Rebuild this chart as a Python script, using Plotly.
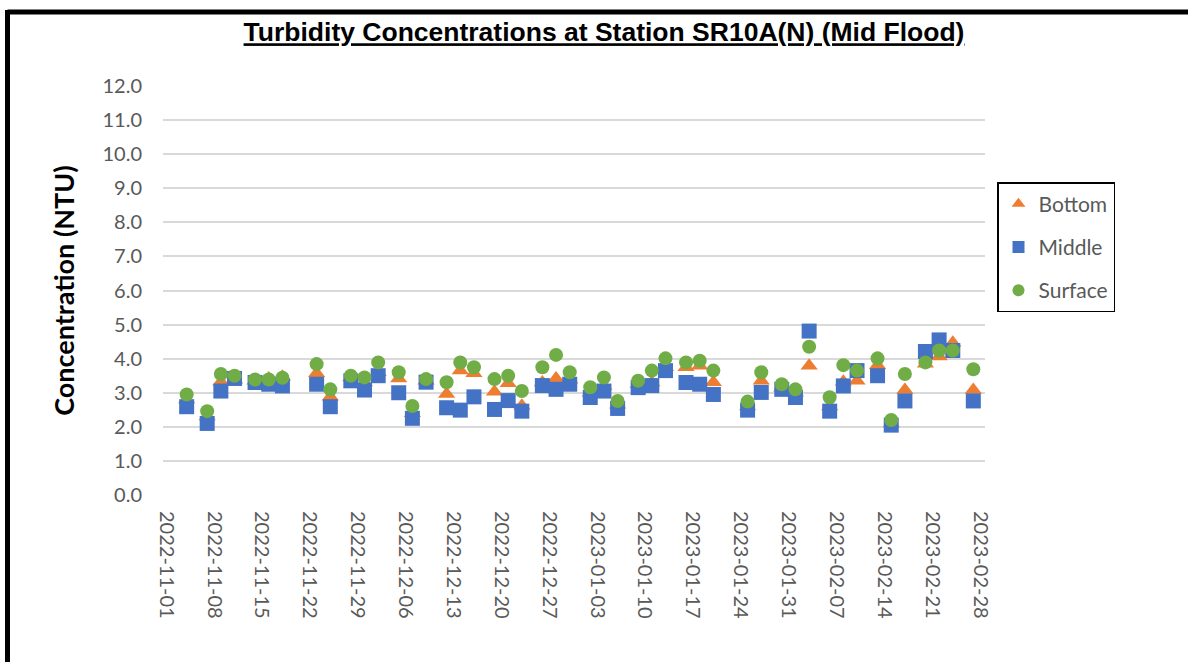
import plotly.graph_objects as go

# Sampling dates (Mid Flood, station SR10A(N))
dates = [
    "2022-11-04", "2022-11-07", "2022-11-09", "2022-11-11", "2022-11-14", "2022-11-16", "2022-11-18",
    "2022-11-23", "2022-11-25", "2022-11-28", "2022-11-30", "2022-12-02", "2022-12-05", "2022-12-07",
    "2022-12-09", "2022-12-12", "2022-12-14", "2022-12-16", "2022-12-19", "2022-12-21", "2022-12-23",
    "2022-12-26", "2022-12-28", "2022-12-30", "2023-01-02", "2023-01-04", "2023-01-06", "2023-01-09",
    "2023-01-11", "2023-01-13", "2023-01-16", "2023-01-18", "2023-01-20", "2023-01-25", "2023-01-27",
    "2023-01-30", "2023-02-01", "2023-02-03", "2023-02-06", "2023-02-08", "2023-02-10", "2023-02-13",
    "2023-02-15", "2023-02-17", "2023-02-20", "2023-02-22", "2023-02-24", "2023-02-27",
]

# Turbidity (NTU) by depth
bottom = [
    2.80, 2.30, 3.32, 3.38, 3.35, 3.42, 3.47,
    3.57, 2.88, 3.45, 3.30, 3.60, 3.42, 2.40,
    3.35, 2.96, 3.65, 3.57, 3.03, 3.28, 2.62,
    3.30, 3.42, 3.38, 3.00, 3.20, 2.65, 3.25,
    3.30, 3.75, 3.75, 3.79, 3.31, 2.60, 3.35,
    3.15, 3.00, 3.79, 2.60, 3.32, 3.35, 3.81,
    2.10, 3.08, 3.85, 4.06, 4.47, 3.08,
]
middle = [
    2.59, 2.10, 3.05, 3.42, 3.30, 3.25, 3.20,
    3.25, 2.59, 3.35, 3.08, 3.50, 3.00, 2.25,
    3.31, 2.56, 2.49, 2.88, 2.51, 2.77, 2.46,
    3.21, 3.10, 3.25, 2.86, 3.05, 2.54, 3.15,
    3.21, 3.65, 3.30, 3.25, 2.95, 2.49, 3.01,
    3.10, 2.86, 4.81, 2.46, 3.20, 3.65, 3.50,
    2.05, 2.76, 4.21, 4.55, 4.24, 2.76,
]
surface = [
    2.95, 2.46, 3.55, 3.50, 3.39, 3.39, 3.44,
    3.84, 3.10, 3.50, 3.45, 3.89, 3.60, 2.61,
    3.40, 3.31, 3.89, 3.75, 3.40, 3.50, 3.05,
    3.75, 4.11, 3.60, 3.16, 3.45, 2.76, 3.35,
    3.65, 4.01, 3.89, 3.94, 3.65, 2.74, 3.60,
    3.25, 3.10, 4.35, 2.87, 3.81, 3.65, 4.01,
    2.20, 3.55, 3.89, 4.24, 4.24, 3.69,
]

tick_dates = [
    "2022-11-01", "2022-11-08", "2022-11-15", "2022-11-22", "2022-11-29", "2022-12-06",
    "2022-12-13", "2022-12-20", "2022-12-27", "2023-01-03", "2023-01-10", "2023-01-17",
    "2023-01-24", "2023-01-31", "2023-02-07", "2023-02-14", "2023-02-21", "2023-02-28",
]
y_ticks = [float(v) for v in range(0, 13)]

series = [
    ("Bottom", bottom, "triangle-up", "#ED7D31", 15),
    ("Middle", middle, "square", "#4472C4", 15),
    ("Surface", surface, "circle", "#70AD47", 14),
]

TICK_FONT = dict(family="Lato", size=20, color="#595959")

fig = go.Figure()
for name, vals, sym, col, sz in series:
    fig.add_trace(go.Scatter(
        x=dates, y=vals, mode="markers", name=name, legendgroup=name,
        marker=dict(symbol=sym, color=col, size=sz, line=dict(width=0)),
    ))

fig.update_layout(
    width=1188, height=662,
    margin=dict(l=163, r=203, t=86, b=167),
    paper_bgcolor="white", plot_bgcolor="white",
    showlegend=True,
    title=dict(
        text="<b><u>Turbidity Concentrations at Station SR10A(N) (Mid Flood)</u></b>",
        x=604 / 1188, xanchor="center", xref="container",
        y=1 - 32 / 662, yanchor="middle", yref="container",
        font=dict(family="Arial", size=26.5, color="black", weight="bold"),
    ),
    legend=dict(
        x=(997 - 163) / 822, y=(495 - 182) / 409, xanchor="left", yanchor="top",
        bordercolor="black", borderwidth=1.5, bgcolor="white",
        font=dict(family="Lato", size=21, color="#595959"),
        tracegroupgap=13, itemsizing="constant",
    ),
    xaxis=dict(
        type="date",
        range=["2022-10-31 13:00", "2023-02-28 17:00"],
        tickmode="array", tickvals=tick_dates, ticktext=tick_dates,
        tickangle=90, tickfont=TICK_FONT,
        showgrid=False, zeroline=False, showline=False,
        ticks="", ticklabelstandoff=15,
    ),
    yaxis=dict(
        range=[0, 12],
        tickmode="array", tickvals=y_ticks, ticktext=[f"{v:.1f}" for v in y_ticks],
        tickfont=TICK_FONT,
        showgrid=True, gridcolor="#D9D9D9", gridwidth=1.5,
        zeroline=False, showline=False, ticks="", ticklabelstandoff=20,
        title=dict(
            text="<b>Concentration (NTU)</b>",
            font=dict(family="Lato", size=27, color="black"),
            standoff=20,
        ),
    ),
)

# Heavy frame around the chart (top and left edges fall inside the page)
px_x = lambda p: (p - 163) / 822
px_y = lambda p: (495 - p) / 409
fig.add_shape(type="line", xref="paper", yref="paper",
              x0=px_x(7.5), x1=px_x(1200), y0=px_y(12), y1=px_y(12),
              line=dict(color="black", width=5))
fig.add_shape(type="line", xref="paper", yref="paper",
              x0=px_x(7.5), x1=px_x(7.5), y0=px_y(10), y1=px_y(680),
              line=dict(color="black", width=5))

fig.write_html("out.html")
